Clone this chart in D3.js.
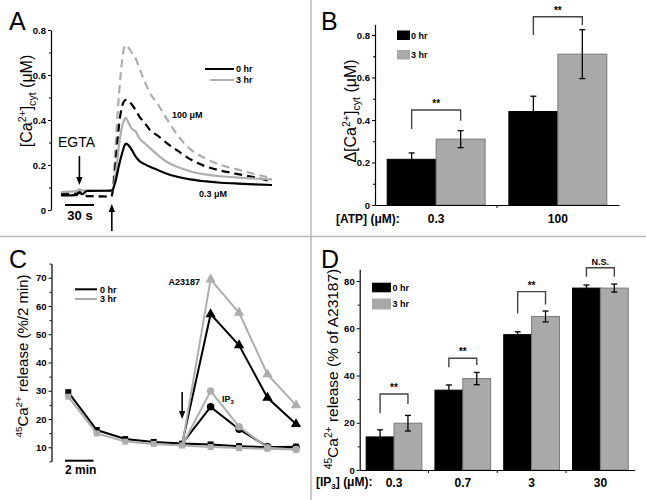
<!DOCTYPE html>
<html><head><meta charset="utf-8">
<script src="https://cdn.jsdelivr.net/npm/d3@7"></script>
<style>
body{margin:0;background:#fff}
svg{display:block}
text{font-family:"Liberation Sans",Arial,sans-serif}
</style>
</head><body>
<svg id="fig" width="646" height="500"></svg>
<script>
// ================= DATA =================
// Panel A: cytosolic Ca2+ traces (time in s, value in µM)
const timeA   = [0,16,19,22,27,52,54,57,60,63,66,67,70,73,77,81,86,92,100,110,120,135,150,165,180,200,218];
const a0hr03  = [.065,.066,.077,.070,.085,.086,.095,.14,.20,.25,.29,.295,.287,.268,.238,.218,.205,.192,.178,.160,.148,.135,.127,.121,.118,.114,.111];
const a3hr03  = [.080,.084,.092,.087,.085,.085,.100,.18,.29,.37,.405,.41,.385,.362,.35,.318,.298,.275,.244,.212,.192,.170,.157,.150,.145,.140,.136];
const a0hr100 = [.070,.072,.078,.070,.062,.060,.100,.24,.38,.46,.488,.49,.485,.47,.445,.415,.39,.355,.33,.295,.265,.222,.193,.175,.162,.145,.127];
const a3hr100 = [.075,.078,.085,.078,.062,.060,.120,.33,.52,.66,.73,.733,.72,.70,.675,.63,.575,.52,.47,.40,.335,.265,.228,.20,.183,.16,.141];
const ticksA  = [0,0.2,0.4,0.6,0.8];
const eventEGTA = 19, eventATP = 52.5;

// Panel B: Δ[Ca2+]cyt bars
const atpConc = ["0.3","100"];
const b0hr    = [0.215,0.44];
const b0hrErr = [0.03,0.072];
const b3hr    = [0.31,0.71];
const b3hrErr = [0.04,0.115];
const bBrTop  = [0.447,0.886];
const bBrLeft = [0.358,0.80];
const bBrRight= [0.397,0.847];
const bBrText = ["**","**"];
const ticksB  = [0,0.2,0.4,0.6,0.8];

// Panel C: 45Ca2+ release time course (min, %/2 min)
const timeC    = [0,2,4,6,8,10,12,14,16];
const cCtl0    = [29.5,16.1,12.9,11.9,11.3,11.0,10.4,10.0,10.2];
const cCtl3    = [27.9,14.9,12.0,11.2,10.6,10.1,9.7,9.5,9.2];
const cA23_0   = [null,null,null,null,11.3,57.1,46.1,27.5,18.2];
const cA23_3   = [null,null,null,null,10.6,69.4,57.6,35.8,24.9];
const cIP3_0   = [null,null,null,null,11.3,24.3,16.4,10.2,10.0];
const cIP3_3   = [null,null,null,null,10.6,29.9,17.3,9.8,9.2];
const ticksC   = [10,20,30,40,50,60,70];
const eventC   = 8;

// Panel D: IP3-induced release bars
const ip3Conc = ["0.3","0.7","3","30"];
const d0hr    = [14.0,33.8,57.3,77.0];
const d0hrErr = [3.0,2.2,1.2,1.3];
const d3hr    = [19.8,38.7,65.0,77.0];
const d3hrErr = [3.3,2.6,2.3,1.7];
const dBrTop  = [32.2,47.3,75.5,85.6];
const dBrLeft = [24.0,43.5,66.3,81.8];
const dBrRight= [27.9,44.5,70.1,81.8];
const dBrText = ["**","**","**","N.S."];
const ticksD  = [0,20,40,60,80];

// ================= DRAW =================
const BLACK="#000", GRAY="#adadad", GRAYBAR="#a9a9a9";
const svg = d3.select("#fig");
svg.append("rect").attr("width",646).attr("height",500).attr("fill","#fff");

// panel separators
svg.append("line").attr("x1",311).attr("x2",311).attr("y1",0).attr("y2",500).attr("stroke","#b8b8b8").attr("stroke-width",1.5);
svg.append("line").attr("x1",0).attr("x2",646).attr("y1",236.5).attr("y2",236.5).attr("stroke","#b8b8b8").attr("stroke-width",1.5);

function panelLabel(x,y,s){
  svg.append("text").attr("x",x).attr("y",y).attr("font-size",25).text(s);
}
panelLabel(9,30,"A"); panelLabel(321,30,"B"); panelLabel(9,268,"C"); panelLabel(321,268,"D");

function yAxis(x, scale, majors, step, fmt){
  const g = svg.append("g").attr("transform",`translate(${x},0)`);
  const [d0,d1] = scale.domain();
  const minors = d3.range(Math.ceil(d0/step)*step, d1+1e-9, step).filter(v=>!majors.some(m=>Math.abs(m-v)<1e-9));
  const gm = g.append("g").call(d3.axisLeft(scale).tickValues(minors).tickSize(2).tickSizeOuter(0).tickFormat(""));
  gm.select(".domain").remove();
  g.append("g").call(d3.axisLeft(scale).tickValues(majors).tickSize(3).tickSizeOuter(0).tickPadding(2).tickFormat(fmt));
  g.selectAll("line").attr("stroke","#000").attr("stroke-width",1);
  g.selectAll("path.domain").attr("stroke","#000").attr("stroke-width",1.2);
  g.selectAll("text").attr("font-size",9.5).attr("font-weight","bold").attr("font-family",'"Liberation Sans",Arial,sans-serif');
  return g;
}

function rotLabel(x,y,parts,size){
  const t = svg.append("text").attr("transform",`translate(${x},${y}) rotate(-90)`).attr("text-anchor","middle").attr("font-size",size);
  let cur = 0;
  parts.forEach(p=>{
    const shift = p.t==="sup" ? -0.4*size : p.t==="sub" ? 0.25*size : 0;
    t.append("tspan").attr("dy",shift-cur).attr("font-size",p.t? size*0.66 : size).text(p.s);
    cur = shift;
  });
}

function arrowDown(x, yTail, yTip){
  svg.append("line").attr("x1",x).attr("x2",x).attr("y1",yTail).attr("y2",yTip-6).attr("stroke","#000").attr("stroke-width",1.6);
  svg.append("path").attr("d",`M${x-3.2},${yTip-8}L${x+3.2},${yTip-8}L${x},${yTip}Z`).attr("fill","#000");
}
function arrowUp(x, yTail, yTip){
  svg.append("line").attr("x1",x).attr("x2",x).attr("y1",yTail).attr("y2",yTip+6).attr("stroke","#000").attr("stroke-width",1.6);
  svg.append("path").attr("d",`M${x-3.2},${yTip+8}L${x+3.2},${yTip+8}L${x},${yTip}Z`).attr("fill","#000");
}
function smallText(x,y,s,opts={}){
  return svg.append("text").attr("x",x).attr("y",y).attr("font-size",opts.size||9).attr("font-weight","bold")
    .attr("text-anchor",opts.anchor||"start").text(s);
}

// ---------- Panel A ----------
const xA = d3.scaleLinear().domain([0,218]).range([61,272]);
const yA = d3.scaleLinear().domain([0,0.8]).range([210,30]);
yAxis(51, yA, ticksA, 0.1, d=> d===0?"0":d3.format(".1f")(d));
const lineA = d3.line().x((d,i)=>xA(timeA[i])).y(d=>yA(d)).curve(d3.curveMonotoneX);
[
  {v:a3hr100, c:GRAY, dash:"8,5"},
  {v:a0hr100, c:BLACK, dash:"8,5"},
  {v:a3hr03, c:GRAY, dash:null},
  {v:a0hr03, c:BLACK, dash:null}
].forEach(s=>{
  svg.append("path").attr("d",lineA(s.v)).attr("fill","none").attr("stroke",s.c).attr("stroke-width",2.2)
    .attr("stroke-dasharray",s.dash);
});
// legend A
svg.append("line").attr("x1",205).attr("x2",234).attr("y1",69).attr("y2",69).attr("stroke",BLACK).attr("stroke-width",2);
svg.append("line").attr("x1",210).attr("x2",234).attr("y1",80).attr("y2",80).attr("stroke",GRAY).attr("stroke-width",2);
smallText(236,72,"0 hr"); smallText(236,83,"3 hr");
smallText(172,118,"100 μM"); smallText(199,197,"0.3 μM");
svg.append("text").attr("x",58).attr("y",147).attr("font-size",14).text("EGTA");
arrowDown(xA(eventEGTA), 156, 185);
arrowUp(xA(eventATP), 231, 204);
svg.append("line").attr("x1",65).attr("x2",65+xA(30)-xA(0)).attr("y1",205).attr("y2",205).attr("stroke","#000").attr("stroke-width",2);
smallText(80,220,"30 s",{size:13,anchor:"middle"});
rotLabel(32,101,[{s:"[Ca"},{s:"2+",t:"sup"},{s:"]"},{s:"cyt",t:"sub"},{s:" (μM)"}],16);

// ---------- bar panel helper ----------
function barPanel(cfg){
  const x = d3.scaleBand().domain(cfg.cats).range(cfg.xr).paddingInner(cfg.pi).paddingOuter(cfg.po);
  const sub = d3.scaleBand().domain([0,1]).range([0,x.bandwidth()]);
  const y = cfg.y;
  const base = y.range()[0];
  [[cfg.v0,BLACK,"#000"],[cfg.v3,GRAYBAR,"#7a7a7a"]].forEach(([vals,fill,stroke],k)=>{
    vals.forEach((v,i)=>{
      const bx = x(cfg.cats[i])+sub(k);
      svg.append("rect").attr("x",bx).attr("y",y(v)).attr("width",sub.bandwidth()).attr("height",base-y(v))
        .attr("fill",fill).attr("stroke",stroke).attr("stroke-width",1);
    });
  });
  [[cfg.v0,cfg.e0],[cfg.v3,cfg.e3]].forEach(([vals,errs],k)=>{
    vals.forEach((v,i)=>{
      const cx = x(cfg.cats[i])+sub(k)+sub.bandwidth()/2;
      const g = svg.append("g").attr("stroke","#000").attr("stroke-width",1.3);
      g.append("line").attr("x1",cx).attr("x2",cx).attr("y1",y(v-errs[i])).attr("y2",y(v+errs[i]));
      g.append("line").attr("x1",cx-3).attr("x2",cx+3).attr("y1",y(v-errs[i])).attr("y2",y(v-errs[i]));
      g.append("line").attr("x1",cx-3).attr("x2",cx+3).attr("y1",y(v+errs[i])).attr("y2",y(v+errs[i]));
    });
  });
  cfg.cats.forEach((c,i)=>{
    const xl = x(c)+sub(0)+sub.bandwidth()/2, xr = x(c)+sub(1)+sub.bandwidth()/2;
    svg.append("path").attr("d",`M${xl},${y(cfg.brL[i])}V${y(cfg.brT[i])}H${xr}V${y(cfg.brR[i])}`)
      .attr("fill","none").attr("stroke","#444").attr("stroke-width",1.4);
    smallText((xl+xr)/2, y(cfg.brT[i])-3, cfg.brS[i], {size:cfg.brS[i]==="**"?10:9, anchor:"middle"});
  });
  const gx = svg.append("g").attr("transform",`translate(0,${base})`)
    .call(d3.axisBottom(x).tickSize(0).tickSizeOuter(0).tickPadding(cfg.labPad));
  gx.select(".domain").attr("stroke","#000").attr("stroke-width",1.2);
  gx.selectAll("text").attr("font-size",12).attr("font-weight","bold").attr("font-family",'"Liberation Sans",Arial,sans-serif');
  cfg.cats.slice(0,-1).forEach(c=>{
    const bx = x(c)+x.bandwidth()+x.step()*x.paddingInner()/2;
    svg.append("line").attr("x1",bx).attr("x2",bx).attr("y1",base).attr("y2",base+3).attr("stroke","#000");
  });
  return {x,sub};
}

// ---------- Panel B ----------
const yB = d3.scaleLinear().domain([0,0.85]).range([205,24.4]);
yAxis(375, yB, ticksB, 0.1, d=> d===0?"0":d3.format(".1f")(d));
barPanel({cats:atpConc, xr:[375,619], pi:0.195, po:0.1, y:yB, v0:b0hr, e0:b0hrErr, v3:b3hr, e3:b3hrErr,
  brT:bBrTop, brL:bBrLeft, brR:bBrRight, brS:bBrText, labPad:9});
smallText(336,222.5,"[ATP] (μM):",{size:12});
svg.append("rect").attr("x",397).attr("y",30.5).attr("width",13).attr("height",9.5).attr("fill",BLACK);
svg.append("rect").attr("x",397).attr("y",50).attr("width",13).attr("height",9.5).attr("fill",GRAYBAR);
smallText(411,38.5,"0 hr"); smallText(411,58,"3 hr");
rotLabel(356,111,[{s:"Δ[Ca"},{s:"2+",t:"sup"},{s:"]"},{s:"cyt",t:"sub"},{s:" (μM)"}],16);

// ---------- Panel C ----------
const xC = d3.scaleLinear().domain([0,16]).range([68.3,296]);
const yC = d3.scaleLinear().domain([5,75]).range([461.4,263.6]);
yAxis(51.5, yC, ticksC, 5, d3.format("d"));
const lineC = d3.line().defined(d=>d!=null).x((d,i)=>xC(timeC[i])).y(d=>yC(d));
const sq = d3.symbol(d3.symbolSquare).size(36);
const ci = d3.symbol(d3.symbolCircle).size(44);
const tri = d3.symbol(d3.symbolTriangle).size(46);
function seriesC(vals,color,sym,skipFirst){
  svg.append("path").attr("d",lineC(vals)).attr("fill","none").attr("stroke",color).attr("stroke-width",2);
  const first = vals.findIndex(v=>v!=null);
  vals.forEach((v,i)=>{
    if(v==null) return;
    if(skipFirst && i===first) return;
    svg.append("path").attr("d",sym()).attr("transform",`translate(${xC(timeC[i])},${yC(v)})`).attr("fill",color);
  });
}
seriesC(cA23_0,BLACK,tri,true);
seriesC(cIP3_0,BLACK,ci,true);
seriesC(cCtl0,BLACK,sq,false);
seriesC(cA23_3,GRAY,tri,true);
seriesC(cIP3_3,GRAY,ci,true);
seriesC(cCtl3,GRAY,sq,false);
svg.append("line").attr("x1",75).attr("x2",97).attr("y1",289.3).attr("y2",289.3).attr("stroke",BLACK).attr("stroke-width",2);
svg.append("line").attr("x1",75).attr("x2",97).attr("y1",299).attr("y2",299).attr("stroke",GRAY).attr("stroke-width",2);
smallText(100,292.5,"0 hr"); smallText(100,302.3,"3 hr");
smallText(200,285,"A23187",{anchor:"end"});
const ipt = smallText(222,401.5,"IP");
ipt.append("tspan").attr("font-size",6).attr("dy",2.5).text("3");
arrowDown(xC(eventC), 392, 419);
svg.append("line").attr("x1",65).attr("x2",65+xC(2)-xC(0)).attr("y1",460.7).attr("y2",460.7).attr("stroke","#000").attr("stroke-width",2);
smallText(65,474,"2 min",{size:12});
rotLabel(28,356,[{s:"45",t:"sup"},{s:"Ca"},{s:"2+",t:"sup"},{s:" release (%/2 min)"}],15);

// ---------- Panel D ----------
const yD = d3.scaleLinear().domain([0,85]).range([470,269.2]);
yAxis(359.7, yD, ticksD, 10, d3.format("d"));
barPanel({cats:ip3Conc, xr:[359.7,634.7], pi:0.19, po:0.094, y:yD, v0:d0hr, e0:d0hrErr, v3:d3hr, e3:d3hrErr,
  brT:dBrTop, brL:dBrLeft, brR:dBrRight, brS:dBrText, labPad:8});
const ipx = smallText(316,486,"[IP",{size:12});
ipx.append("tspan").attr("font-size",8).attr("dy",3).text("3");
ipx.append("tspan").attr("dy",-3).text("] (μM):");
svg.append("rect").attr("x",372).attr("y",282.7).attr("width",19).attr("height",9.6).attr("fill",BLACK);
svg.append("rect").attr("x",372).attr("y",298.5).attr("width",19).attr("height",11).attr("fill",GRAYBAR);
smallText(392.5,290.5,"0 hr"); smallText(392.5,307,"3 hr");
rotLabel(338,369,[{s:"45",t:"sup"},{s:"Ca"},{s:"2+",t:"sup"},{s:" release (% of A23187)"}],15.5);
</script>
</body></html>
